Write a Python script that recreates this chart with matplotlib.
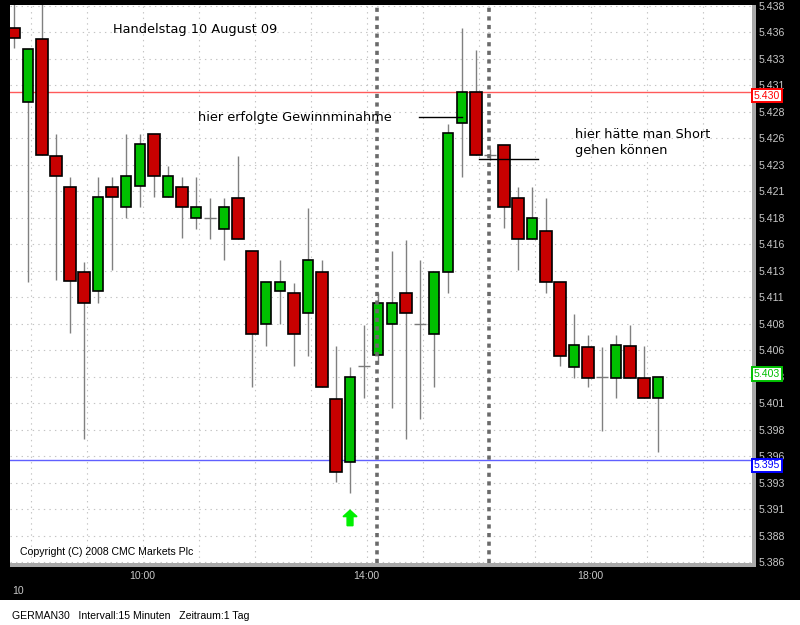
import matplotlib
matplotlib.use("Agg")
import matplotlib.pyplot as plt
import matplotlib.transforms as mtransforms
from matplotlib.patches import Rectangle
import numpy as np

plt.rcParams['lines.scale_dashes'] = False

# ---- data (GERMAN30, 15-minute candles, 10 Aug 2009, 07:45 .. 19:15) ----
opens = [5.4359, 5.4290, 5.4349, 5.4240, 5.4211, 5.4131, 5.4113, 5.4211, 5.4192, 5.4212,
         5.4260, 5.4201, 5.4211, 5.4182, 5.4182, 5.4171, 5.4200, 5.4151, 5.4083, 5.4113,
         5.4112, 5.4093, 5.4131, 5.4012, 5.3954, 5.4043, 5.4054, 5.4083, 5.4112, 5.4083,
         5.4073, 5.4131, 5.4271, 5.4300, 5.4241, 5.4250, 5.4200, 5.4162, 5.4170, 5.4122,
         5.4042, 5.4061, 5.4033, 5.4032, 5.4062, 5.4032, 5.4013]
highs = [5.4390, 5.4340, 5.4390, 5.4260, 5.4220, 5.4141, 5.4220, 5.4220, 5.4260, 5.4260,
         5.4260, 5.4230, 5.4220, 5.4220, 5.4200, 5.4200, 5.4240, 5.4151, 5.4122, 5.4142,
         5.4121, 5.4191, 5.4142, 5.4062, 5.4042, 5.4082, 5.4112, 5.4151, 5.4161, 5.4142,
         5.4131, 5.4270, 5.4359, 5.4339, 5.4246, 5.4250, 5.4211, 5.4211, 5.4200, 5.4122,
         5.4092, 5.4072, 5.4061, 5.4072, 5.4082, 5.4062, 5.4033]
lows = [5.4341, 5.4122, 5.4241, 5.4124, 5.4074, 5.3975, 5.4102, 5.4133, 5.4182, 5.4192,
        5.4201, 5.4201, 5.4163, 5.4171, 5.4162, 5.4142, 5.4162, 5.4024, 5.4062, 5.4083,
        5.4043, 5.4053, 5.4024, 5.3935, 5.3925, 5.4013, 5.4045, 5.4004, 5.3975, 5.3994,
        5.4024, 5.4112, 5.4220, 5.4241, 5.4236, 5.4172, 5.4133, 5.4162, 5.4112, 5.4043,
        5.4032, 5.4024, 5.3983, 5.4013, 5.4032, 5.4013, 5.3963]
closes = [5.4350, 5.4340, 5.4241, 5.4221, 5.4123, 5.4102, 5.4201, 5.4201, 5.4221, 5.4251,
          5.4221, 5.4221, 5.4192, 5.4192, 5.4182, 5.4192, 5.4162, 5.4073, 5.4122, 5.4122,
          5.4073, 5.4142, 5.4024, 5.3944, 5.4033, 5.4043, 5.4102, 5.4102, 5.4093, 5.4083,
          5.4131, 5.4261, 5.4300, 5.4241, 5.4241, 5.4192, 5.4162, 5.4182, 5.4122, 5.4053,
          5.4063, 5.4032, 5.4033, 5.4063, 5.4032, 5.4013, 5.4033]

ytick_labels = ["5.438", "5.436", "5.433", "5.431", "5.428", "5.426", "5.423", "5.421",
                "5.418", "5.416", "5.413", "5.411", "5.408", "5.406", "5.403", "5.401",
                "5.398", "5.396", "5.393", "5.391", "5.388", "5.386"]
xtick_labels = ["10:00", "14:00", "18:00"]
xtick_candles = [9, 25, 41]          # candle index of 10:00, 14:00, 18:00
marker_candles = [26, 34]            # dashed vertical markers
resistance = 5.430
support = 5.3955
last_price = 5.4033
signal_candle = 24                   # green up arrow
take_profit_line = (28.9, 32.0, 5.4276)
short_line = (33.2, 37.4, 5.4237)

# ---- figure ----
W, H = 800, 625
fig = plt.figure(figsize=(W / 100, H / 100), dpi=100)
fig.patch.set_facecolor('white')
fig.patches.append(Rectangle((0, 25 / H), 1, 600 / H, transform=fig.transFigure,
                             facecolor='black', edgecolor='none', zorder=-10))
# gray bevel right and bottom of the plot area
fig.patches.append(Rectangle((752 / W, 1 - 567 / H), 4 / W, 562 / H, transform=fig.transFigure,
                             facecolor='#a8a8a8', edgecolor='none', zorder=-5))
fig.patches.append(Rectangle((10 / W, 1 - 567 / H), 746 / W, 4 / H, transform=fig.transFigure,
                             facecolor='#a8a8a8', edgecolor='none', zorder=-5))

ax = fig.add_axes([10 / W, 1 - 563 / H, 742 / W, 558 / H])
ax.set_zorder(1)
ax.set_facecolor('white')
for s in ax.spines.values():
    s.set_visible(False)

n = len(opens)
x = np.arange(n)
o = np.array(opens); c = np.array(closes); hi = np.array(highs); lo = np.array(lows)

ax.set_xlim(-0.286, 52.71)
ax.set_ylim(5.38591, 5.43809)

# grid
yt = np.linspace(5.438, 5.386, len(ytick_labels))
for v in yt:
    ax.axhline(v, color='#c4c4c4', lw=0.8, ls=(0, (1, 3)), zorder=0.5)
for gx in np.arange(1, 53, 4) + 0.2:
    ax.axvline(gx, color='#c4c4c4', lw=0.8, ls=(0, (1, 3)), zorder=0.5)

# wicks
ax.vlines(x, lo, hi, color='#808080', lw=1.0, zorder=2)

# bodies
up = c > o
down = c < o
doji = c == o
ax.bar(x[up], (c - o)[up], bottom=o[up], width=0.72, color='#00c000',
       edgecolor='black', linewidth=1.2, zorder=3)
ax.bar(x[down], (o - c)[down], bottom=c[down], width=0.82, color='#c80000',
       edgecolor='black', linewidth=1.2, zorder=3)
ax.hlines(c[doji], x[doji] - 0.42, x[doji] + 0.42, color='#7a7a7a', lw=1.0, zorder=3)

# support / resistance
ax.axhline(resistance, color='#ff5a5a', lw=1.0, zorder=1.5)
ax.axhline(support, color='#6060ff', lw=1.0, zorder=1.5)

# dashed markers
for m in marker_candles:
    ax.axvline(m - 0.07, color='#6a6a6a', lw=2.6, ls=(0, (3, 3.2)), zorder=4)

# annotation lines
ax.plot([take_profit_line[0], take_profit_line[1]], [take_profit_line[2]] * 2, color='black', lw=1.0, zorder=5)
ax.plot([short_line[0], short_line[1]], [short_line[2]] * 2, color='black', lw=1.0, zorder=5)

# green arrow
ax.arrow(signal_candle, 5.3894, 0, 0.00145, width=0.42, head_width=1.0, head_length=0.0006,
         length_includes_head=True, color='#00f000', zorder=5)

# ticks
ax.yaxis.tick_right()
ax.set_yticks(yt)
ax.set_yticklabels(ytick_labels)
ax.tick_params(axis='y', length=0, pad=4.5, labelsize=7.6, labelcolor='#c8c8c8')
ax.set_xticks([xtick_candles[i] + 0.15 for i in range(len(xtick_candles))])
ax.set_xticklabels(xtick_labels)
ax.tick_params(axis='x', length=0, pad=6, labelsize=7.6, labelcolor='#c8c8c8')
for lab in ax.get_yticklabels() + ax.get_xticklabels():
    lab.set_fontfamily('Liberation Sans')

# price boxes on the right axis
tr = mtransforms.blended_transform_factory(ax.transAxes, ax.transData)
def price_box(val, text, col, dy):
    t = mtransforms.offset_copy(tr, fig=fig, x=2, y=dy, units='dots')
    ax.text(1.0, val, text, transform=t, ha='left', va='center', fontsize=7.6,
            family='Liberation Sans', color=col, zorder=10, clip_on=False,
            bbox=dict(boxstyle='square,pad=0.15', fc='white', ec=col, lw=1.4))
price_box(resistance, "5.430", '#ff0000', -4)
price_box(support, "5.395", '#0000ff', -5)
price_box(last_price, "5.403", '#00c000', 3)

# texts
fig.text(113 / W, 1 - 30 / H, "Handelstag 10 August 09", fontsize=9.3, family='DejaVu Sans',
         va='center', ha='left', color='black', zorder=5)
fig.text(198 / W, 1 - 118 / H, "hier erfolgte Gewinnminahme", fontsize=9.3, family='DejaVu Sans',
         va='center', ha='left', color='black', zorder=5)
fig.text(575 / W, 1 - 128 / H, "hier hätte man Short\ngehen können", fontsize=9.3,
         family='DejaVu Sans', va='top', ha='left', color='black', linespacing=1.3, zorder=5)
fig.text(20 / W, 1 - 552 / H, "Copyright (C) 2008 CMC Markets Plc", fontsize=7.6,
         family='Liberation Sans', va='center', ha='left', color='black', zorder=5)
fig.text(12 / W, 1 - 591 / H, "10", fontsize=7.6, family='Liberation Sans',
         va='center', ha='left', color='#c8c8c8', zorder=5)
fig.text(12 / W, 1 - 616 / H, "GERMAN30   Intervall:15 Minuten   Zeitraum:1 Tag", fontsize=7.6,
         family='Liberation Sans', va='center', ha='left', color='black', zorder=5)

fig.savefig("out.png", dpi=100, facecolor=fig.get_facecolor())
